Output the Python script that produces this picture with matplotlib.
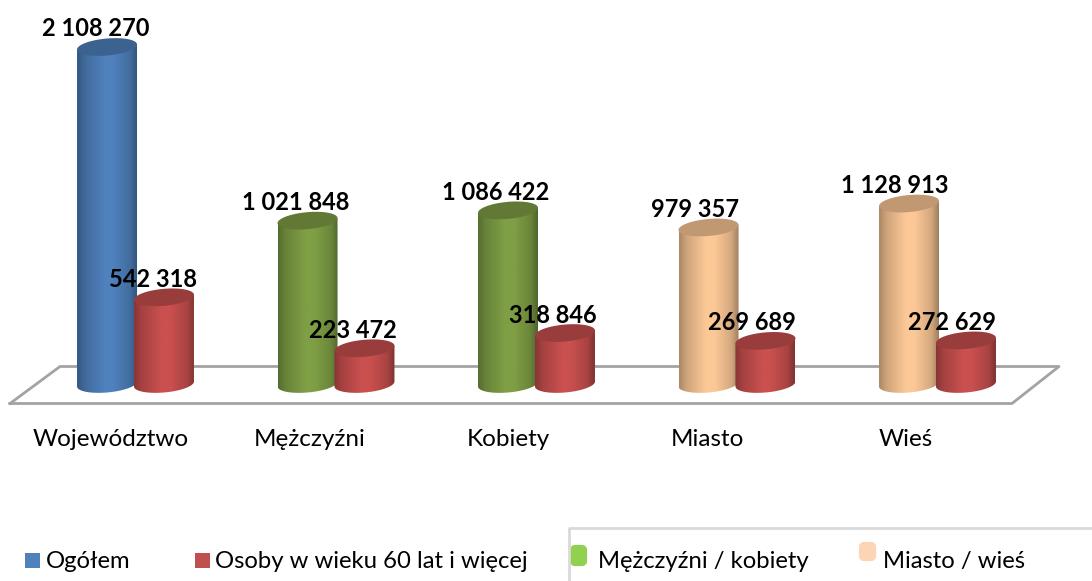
import numpy as np
import matplotlib
matplotlib.use("Agg")
import matplotlib.pyplot as plt
from matplotlib.patches import Polygon, FancyBboxPatch, Rectangle
from matplotlib.lines import Line2D
from matplotlib.transforms import Affine2D
from matplotlib.colors import to_rgb

plt.rcParams['font.family'] = ['Lato', 'DejaVu Sans']

kategorie = ["Województwo", "Mężczyźni", "Kobiety", "Miasto", "Wieś"]
ogolem = [2108270, 1021848, 1086422, 979357, 1128913]
seniorzy = [542318, 223472, 318846, 269689, 272629]
etykiety_ogolem = ["2 108 270", "1 021 848", "1 086 422", "979 357", "1 128 913"]
etykiety_seniorzy = ["542 318", "223 472", "318 846", "269 689", "272 629"]
kolory_ogolem = ["#4f81bd", "#7f9f45", "#7f9f45", "#fcc896", "#fcc896"]
kolor_seniorzy = "#c9504f"

W, H = 1092, 581
fig = plt.figure(figsize=(W / 100, H / 100), dpi=100)
ax = fig.add_axes([0, 0, 1, 1])
ax.axis("off")

# skala : 200.5 px par categorie, 337 px pour la barre la plus haute
px_x = 200.5
px_y = 337 / 2108270
x0_px = 135.5
y0_px = 384
xlim = (-x0_px / px_x, (W - x0_px) / px_x)
ylim = (-(H - y0_px) / px_y, y0_px / px_y)

# repere en pixels pour le sol et la legende
pix = Affine2D().scale(1 / W, -1 / H).translate(0, 1) + fig.transFigure


def cylindre(cx, valeur, couleur):
    l = 60 / px_x
    h = 8.5 / px_y
    pente = 2.5 / px_y
    rgb = np.array(to_rgb(couleur))
    t = np.linspace(0, 1, 60)
    # bords sombres, centre clair
    f = np.interp(t, [0, 0.12, 0.45, 0.6, 0.88, 1], [0.68, 0.82, 1.0, 1.0, 0.84, 0.64])
    grad = (rgb[None, None, :] * f[None, :, None]).clip(0, 1)

    a = np.linspace(np.pi, 2 * np.pi, 50)
    xb = cx + l / 2 * np.cos(a)
    yb = h * np.sin(a) + pente * np.cos(a)
    corps = np.vstack([[cx - l / 2, valeur - pente], np.column_stack([xb, yb]), [cx + l / 2, valeur + pente]])
    contour = Polygon(corps, closed=True, transform=ax.transData, facecolor="none", edgecolor="none")
    ax.add_patch(contour)
    im = ax.imshow(grad, extent=(cx - l / 2, cx + l / 2, -h * 2, valeur + h * 2), aspect="auto", zorder=3, interpolation="bilinear")
    im.set_clip_path(contour)

    a = np.linspace(0, 2 * np.pi, 100)
    dessus = np.column_stack([cx + l / 2 * np.cos(a), valeur + h * np.sin(a) + pente * np.cos(a)])
    ax.add_patch(Polygon(dessus, closed=True, facecolor=rgb * 0.76, edgecolor="none", zorder=3))


def etiquette(cx, valeur, texte, dx):
    ax.annotate(texte, (cx, valeur), xytext=(dx, 18), textcoords="offset pixels", ha="center", va="center",
                fontsize=17, fontweight="bold", color="black", zorder=6)


# sol
ax.add_line(Line2D([10, 60, 1059, 1012, 10], [403.5, 366.5, 366.5, 403.5, 403.5], transform=pix, color="#a3a3a3", lw=2, zorder=1))

for i in range(len(kategorie)):
    cylindre(i - 0.142, ogolem[i], kolory_ogolem[i])
    cylindre(i + 0.142, seniorzy[i], kolor_seniorzy)
    etiquette(i - 0.142, ogolem[i], etykiety_ogolem[i], -11 - 0.8 * i)
    etiquette(i + 0.142, seniorzy[i], etykiety_seniorzy[i], -11 - 0.8 * i)
    ax.annotate(kategorie[i], (i, 0), xytext=(-24.5 - 1.7 * i, -56), textcoords="offset pixels", ha="center", va="center",
                fontsize=17.5, color="black")

ax.set_xlim(*xlim)
ax.set_ylim(*ylim)

# legende
fig.add_artist(Line2D([569, 569, 1092], [581, 527.5, 527.5], transform=pix, color="#d9d9d9", lw=2))
fig.add_artist(Rectangle((25, 553), 15, 15, transform=pix, facecolor="#4f81bd", edgecolor="none"))
fig.add_artist(Rectangle((195, 553), 15, 15, transform=pix, facecolor="#c0504d", edgecolor="none"))
fig.add_artist(FancyBboxPatch((572, 547), 13, 17, boxstyle="round,pad=0,rounding_size=3", transform=pix,
                              facecolor="#92d050", edgecolor="#92d050", lw=3))
fig.add_artist(FancyBboxPatch((861, 544), 13, 15, boxstyle="round,pad=0,rounding_size=3", transform=pix,
                              facecolor="#fcd5b5", edgecolor="#fcd5b5", lw=3))
for x, s in [(46, "Ogółem"), (215, "Osoby w wieku 60 lat i więcej"),
             (598, "Mężczyźni / kobiety"), (883, "Miasto / wieś")]:
    fig.text(x, 568, s, transform=pix, fontsize=17.2, va="baseline", ha="left", color="black")

fig.savefig("out.png", dpi=100)
